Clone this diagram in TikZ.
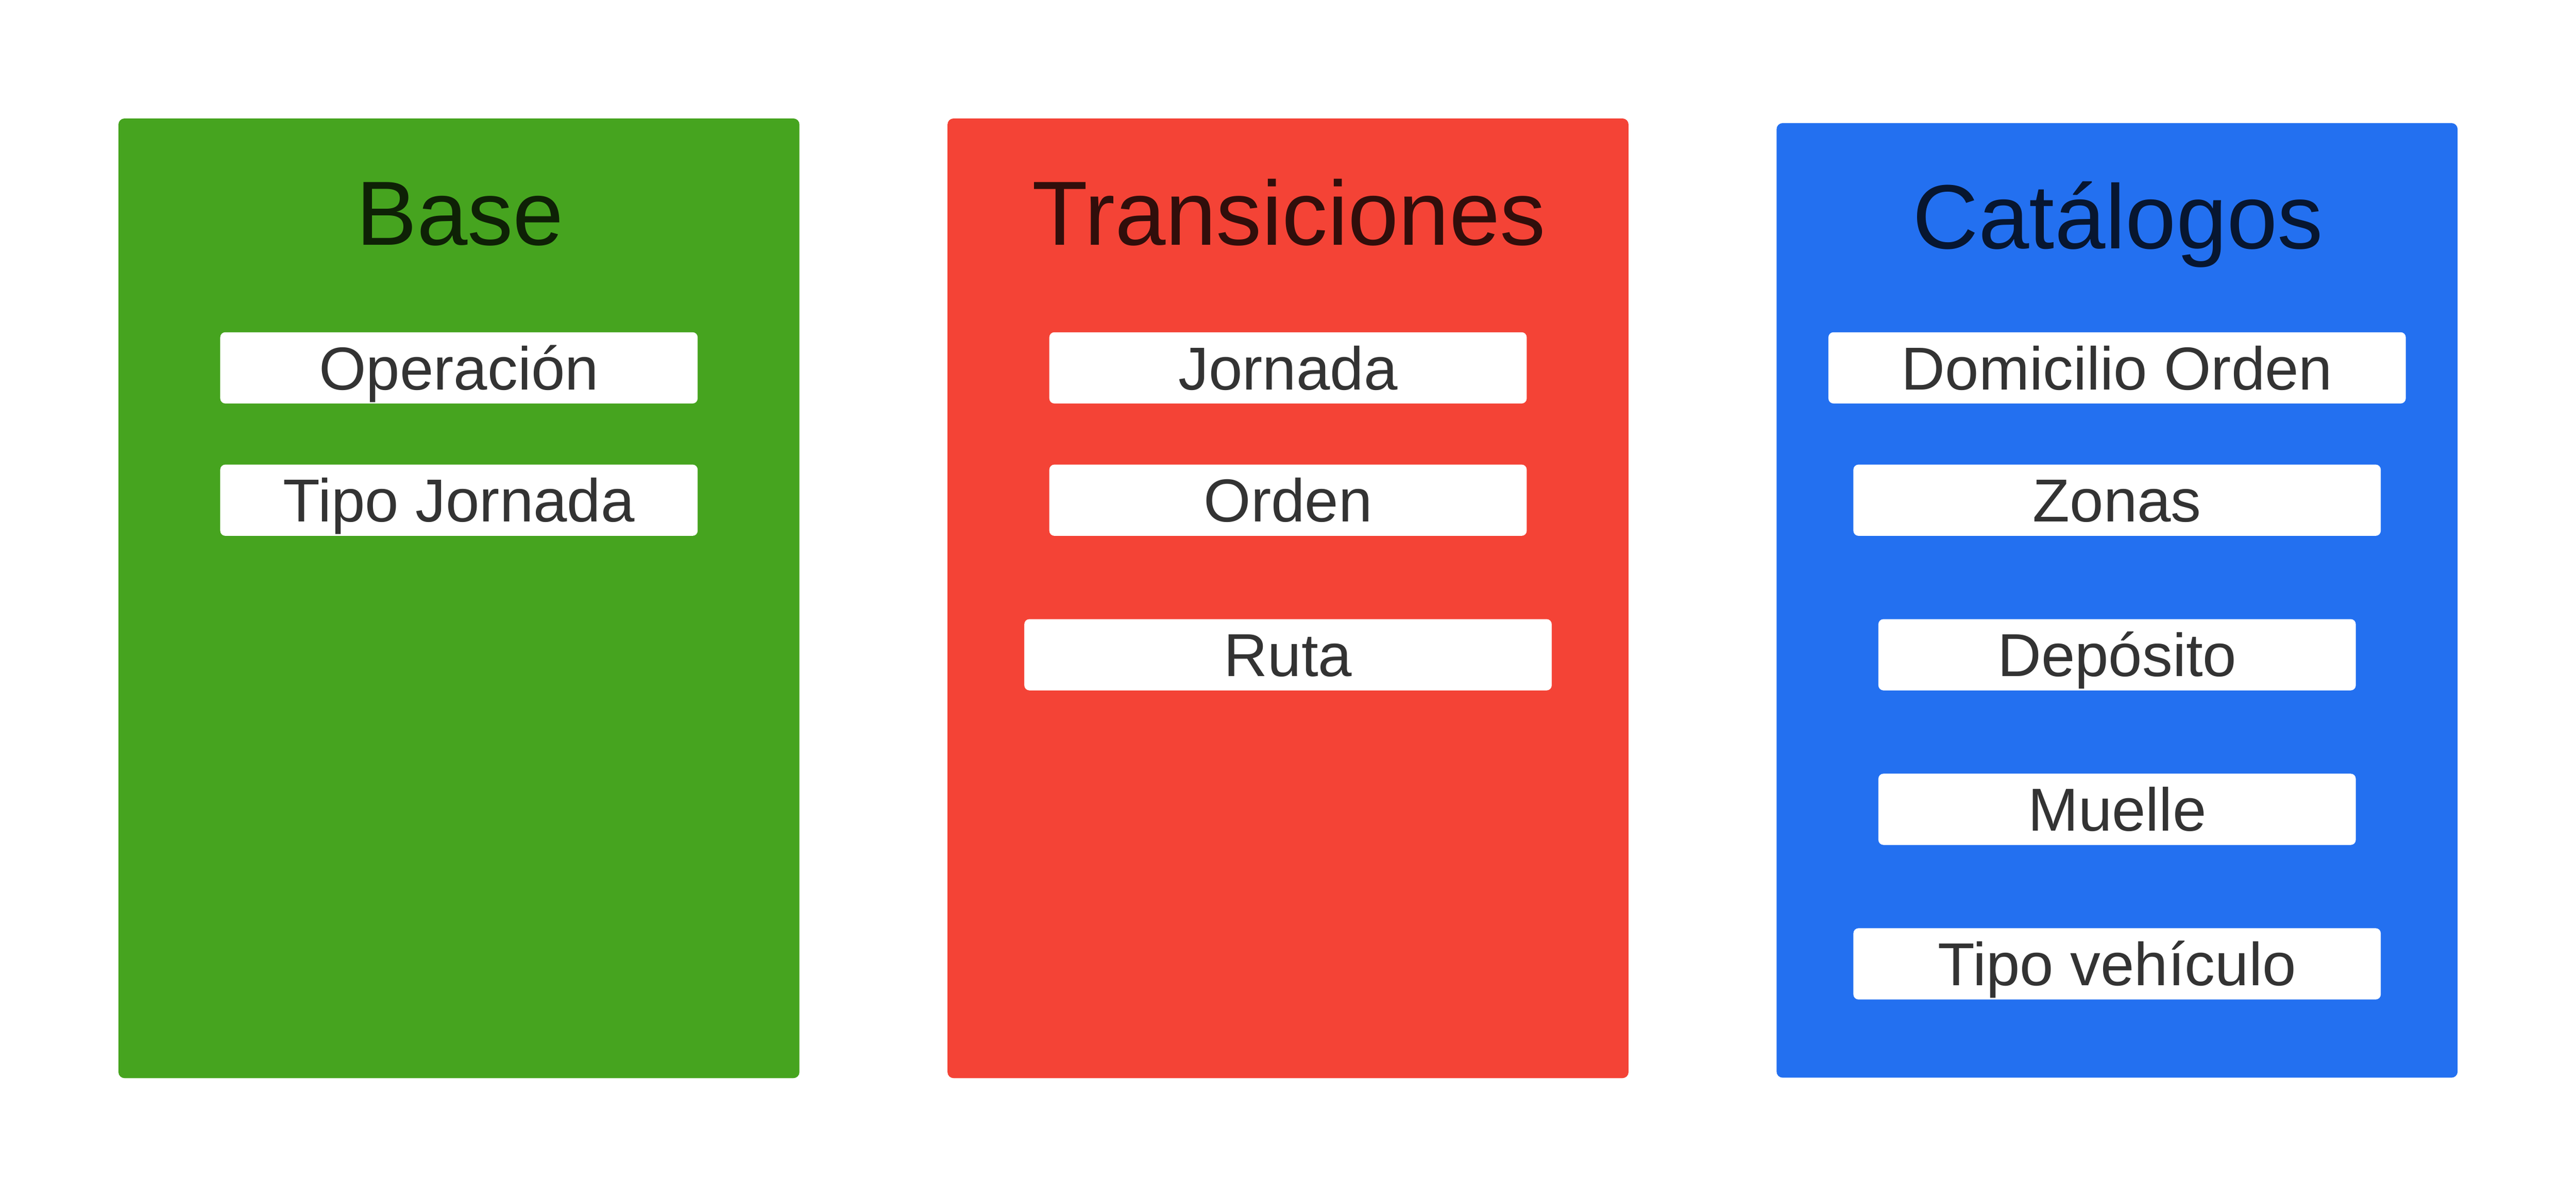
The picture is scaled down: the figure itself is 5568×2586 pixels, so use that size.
\documentclass[tikz,border=0pt]{standalone}
\usepackage{fontspec}
\setmainfont{Liberation Sans}
\definecolor{gfill}{HTML}{46A41F}
\definecolor{rfill}{HTML}{F44336}
\definecolor{bfill}{HTML}{2370F0}
\definecolor{itemtext}{HTML}{333333}
\begin{document}
\begin{tikzpicture}[x=0.1pt,y=-0.1pt,
  panel/.style={rectangle, rounded corners=1.3pt, draw=none, inner sep=0pt, minimum width=147.2pt},
  item/.style={rectangle, rounded corners=1.1pt, fill=white, inner sep=0pt, minimum height=15.4pt,
    text height=9.4pt, text depth=0pt, text=itemtext, font=\fontsize{13.1pt}{15pt}\selectfont},
  ttl/.style={anchor=base, inner sep=0pt, font=\fontsize{19.7pt}{22pt}\selectfont}]
\useasboundingbox (0,0) rectangle (5568,2586);
\fill[white] (0,0) rectangle (5568,2586);
% panels
\node[panel, fill=gfill, minimum height=207.4pt] (gpanel) at (992,1293) {};
\node[panel, fill=rfill, minimum height=207.4pt] (rpanel) at (2784,1293) {};
\node[panel, fill=bfill, minimum height=206.3pt] (bpanel) at (4576,1297.5) {};
% titles
\node[ttl, text=gfill!20!black] (tbase) at (994,530) {Base};
\node[ttl, text=rfill!20!black] (ttrans) at (2786,530) {Transiciones};
\node[ttl, text=bfill!20!black] (tcat) at (4578,537) {Catálogos};
% base items
\node[item, minimum width=103.2pt] (operacion) at (992,795) {Operación};
\node[item, minimum width=103.2pt] (tipojornada) at (992,1081) {Tipo Jornada};
% transiciones items
\node[item, minimum width=103.2pt] (jornada) at (2784,795) {Jornada};
\node[item, minimum width=103.2pt] (orden) at (2784,1081) {Orden};
\node[item, minimum width=114pt] (ruta) at (2784,1415) {Ruta};
% catalogos items
\node[item, minimum width=124.8pt] (domicilio) at (4576,795) {Domicilio Orden};
\node[item, minimum width=114pt] (zonas) at (4576,1081) {Zonas};
\node[item, minimum width=103.2pt] (deposito) at (4576,1415) {Depósito};
\node[item, minimum width=103.2pt] (muelle) at (4576,1749) {Muelle};
\node[item, minimum width=114pt] (tipoveh) at (4576,2083) {Tipo vehículo};
\end{tikzpicture}
\end{document}
